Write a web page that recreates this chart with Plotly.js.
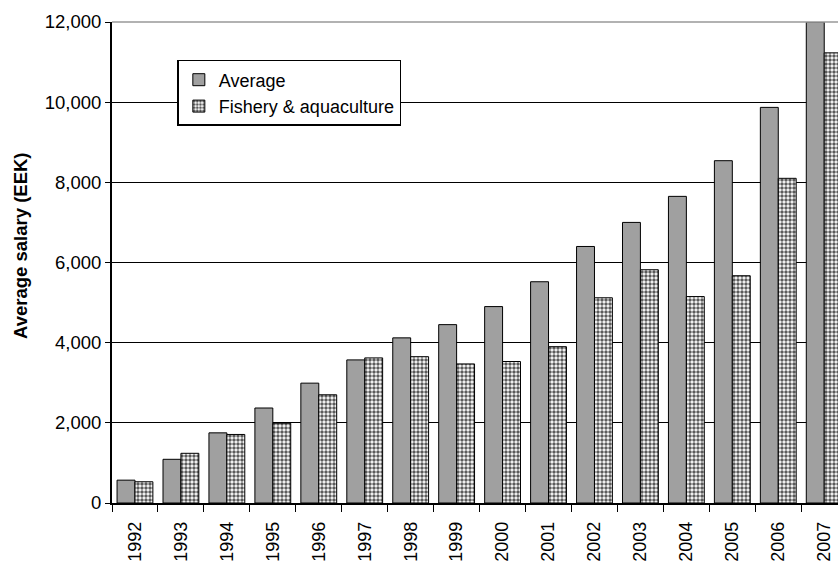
<!DOCTYPE html>
<html><head><meta charset="utf-8">
<script src="https://cdn.plot.ly/plotly-3.0.1.min.js"></script>
<style>body{margin:0;background:#fff}#c{width:838px;height:563px}</style>
</head><body><div id="c"></div>
<script>
const years = ["1992","1993","1994","1995","1996","1997","1998","1999","2000","2001","2002","2003","2004","2005","2006","2007"];
const average = [570,1090,1750,2370,2990,3570,4120,4450,4900,5520,6400,7000,7650,8540,9870,12000];
const fishery = [530,1240,1710,1990,2700,3620,3650,3470,3530,3900,5120,5820,5150,5670,8100,11230];

const F = "Liberation Sans, Arial, sans-serif";
const data = [
  {type:"bar", name:"Average", x:years, y:average,
   marker:{color:"#a0a0a0", line:{color:"#000", width:1}}},
  {type:"bar", name:"Fishery & aquaculture", x:years, y:fishery,
   marker:{color:"#ffffff", line:{color:"#000", width:1},
     pattern:{shape:".", size:4, solidity:0.6, fgcolor:"#5a5a5a", bgcolor:"#ffffff", fillmode:"replace"}}}
];
const layout = {
  width:838, height:563,
  margin:{l:112, r:0, t:22, b:60},
  paper_bgcolor:"#fff", plot_bgcolor:"#fff",
  font:{family:F, size:18, color:"#000"},
  barmode:"group", bargap:0.22, bargroupgap:0,
  showlegend:true,
  legend:{x:0.09, y:0.921, xanchor:"left", yanchor:"top", bgcolor:"#fff",
    bordercolor:"#000", borderwidth:1.5, font:{family:F, size:18}, itemwidth:30,
    tracegroupgap:2},
  xaxis:{type:"category", range:[-0.5,15.3], tickangle:-90, tickson:"boundaries",
    ticks:"outside", ticklen:7, tickcolor:"#000", showline:true, linecolor:"#000", linewidth:1.5,
    tickfont:{family:F, size:18}, ticklabelstandoff:10, showgrid:false, fixedrange:true},
  yaxis:{range:[0,12000], dtick:2000, tickformat:",d", ticks:"outside", ticklen:5,
    tickcolor:"#000", showline:true, linecolor:"#000", linewidth:2,
    gridcolor:"#000", gridwidth:1.2, zeroline:false,
    tickfont:{family:F, size:18.5}},
  annotations:[{text:"<b>Average salary (EEK)</b>", xref:"paper", yref:"paper",
    x:-0.127, y:0.534, xanchor:"center", yanchor:"middle", textangle:-90, showarrow:false,
    font:{family:F, size:18.5, color:"#000"}}],
  shapes:[{type:"line", xref:"paper", yref:"paper", x0:0, x1:1, y0:1, y1:1,
    line:{color:"#999", width:1.5}, layer:"above"}]
};
Plotly.newPlot("c", data, layout, {displayModeBar:false, staticPlot:true});
</script></body></html>
